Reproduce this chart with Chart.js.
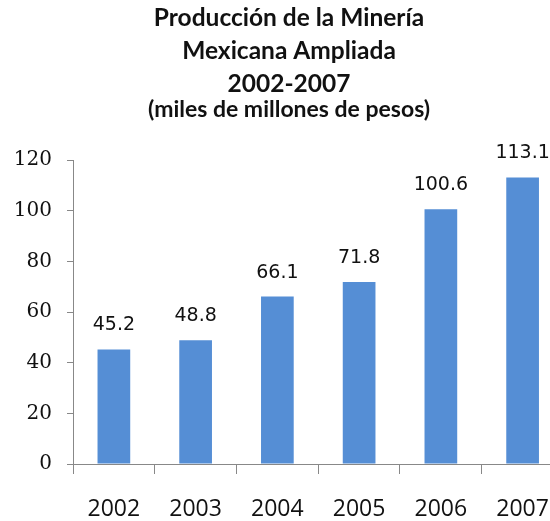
<!DOCTYPE html>
<html>
<head>
<meta charset="utf-8">
<script src="https://cdn.jsdelivr.net/npm/chart.js@4"></script>
<style>
  html, body { margin: 0; padding: 0; background: #fff; overflow: hidden; }
  #wrap { width: 550px; height: 521px; overflow: hidden; position: relative; }
  #box { width: 571px; height: 521px; position: absolute; left: 0; top: 0; }
</style>
</head>
<body>
<div id="wrap"><div id="box"><canvas id="c"></canvas></div></div>
<script>
const categories = ['2002', '2003', '2004', '2005', '2006', '2007'];
const values = [45.2, 48.8, 66.1, 71.8, 100.6, 113.1];
const titleLines = ['Producción de la Minería', 'Mexicana Ampliada', '2002-2007'];
const subtitleText = '(miles de millones de pesos)';
const yTicks = [0, 20, 40, 60, 80, 100, 120];

const valueLabels = {
  id: 'valueLabels',
  afterDatasetsDraw(chart) {
    const ctx = chart.ctx;
    const meta = chart.getDatasetMeta(0);
    ctx.save();
    ctx.font = '19px "DejaVu Sans"';
    ctx.fillStyle = '#111';
    ctx.textAlign = 'center';
    ctx.textBaseline = 'alphabetic';
    meta.data.forEach((bar, i) => {
      ctx.fillText(values[i].toFixed(1), bar.x, bar.y - 19);
    });
    ctx.restore();
  }
};

const titleBlock = {
  id: 'titleBlock',
  afterDraw(chart) {
    const ctx = chart.ctx;
    ctx.save();
    ctx.fillStyle = '#111';
    ctx.textAlign = 'center';
    ctx.textBaseline = 'alphabetic';
    const cx = 289;
    ctx.font = 'bold 24.5px Lato';
    const ys = [26, 59, 92];
    titleLines.forEach((t, i) => ctx.fillText(t, cx, ys[i]));
    ctx.font = 'bold 23px Lato';
    ctx.fillText(subtitleText, cx, 117);
    ctx.restore();
  }
};

new Chart(document.getElementById('c'), {
  type: 'bar',
  data: {
    labels: categories,
    datasets: [{
      data: values,
      backgroundColor: '#558ED5',
      borderWidth: 0,
      barPercentage: 0.4,
      categoryPercentage: 1.0
    }]
  },
  options: {
    responsive: true,
    maintainAspectRatio: false,
    animation: false,
    layout: { padding: { left: 0, right: 1, top: 160, bottom: 0 } },
    plugins: {
      legend: { display: false },
      tooltip: { enabled: false },
      title: { display: false },
      subtitle: { display: false }
    },
    scales: {
      x: {
        offset: true,
        grid: {
          display: true,
          drawOnChartArea: false,
          offset: true,
          tickLength: 10,
          color: '#888'
        },
        border: { display: true, color: '#888', width: 1 },
        ticks: {
          color: '#111',
          font: { family: 'Open Sans', size: 23 },
          padding: 22,
          maxRotation: 0
        },
        afterFit(scale) { scale.height = 57; }
      },
      y: {
        min: 0,
        max: 120,
        afterBuildTicks(scale) { scale.ticks = yTicks.map(v => ({ value: v })); },
        grid: {
          display: true,
          drawOnChartArea: false,
          tickLength: 6,
          color: '#888'
        },
        border: { display: true, color: '#888', width: 1 },
        ticks: {
          color: '#111',
          font: { family: 'DejaVu Serif', size: 20 },
          padding: 15
        },
        afterFit(scale) { scale.width = 73; }
      }
    }
  },
  plugins: [valueLabels, titleBlock]
});
</script>
</body>
</html>
